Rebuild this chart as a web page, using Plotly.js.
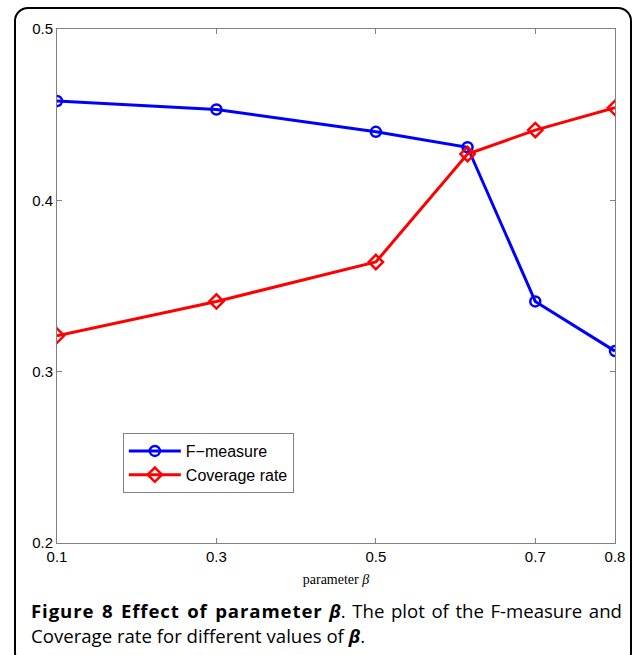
<!DOCTYPE html>
<html>
<head>
<meta charset="utf-8">
<script src="https://cdn.plot.ly/plotly-3.0.1.min.js"></script>
<style>
  html, body { margin: 0; padding: 0; background: #fff; }
  #frame {
    position: absolute; left: 14px; top: 7px; width: 618px; height: 660px;
    border: 2px solid #000; border-radius: 14px; box-sizing: border-box;
  }
  #chart { position: absolute; left: 0; top: 0; width: 635px; height: 655px; }
  #caption {
    position: absolute; left: 31px; top: 598px; width: 591px;
    font-family: 'Open Sans', sans-serif; font-size: 18.6px; line-height: 25px;
    color: #000;
  }
  #caption .first { text-align: justify; text-align-last: justify; white-space: nowrap; }
  #caption .second { text-align: left; white-space: nowrap; }
  #caption .lead { font-weight: bold; letter-spacing: 0.9px; }
  #caption .sym { font-weight: bold; font-style: italic; }
</style>
</head>
<body>
<div id="frame"></div>
<div id="chart"></div>
<div id="caption">
  <div class="first"><span class="lead">Figure 8 Effect of parameter</span> <span class="sym">&beta;</span><span>. The plot of the F-measure and</span></div>
  <div class="second"><span>Coverage rate for different values of </span><span class="sym">&beta;</span><span>.</span></div>
</div>
<script>
// beta values tested and the two scores measured at each
const beta = [0.1, 0.3, 0.5, 0.615, 0.7, 0.8];
const fMeasure = [0.458, 0.453, 0.440, 0.431, 0.341, 0.312];
const coverageRate = [0.321, 0.341, 0.364, 0.427, 0.441, 0.454];

const xTicks = [0.1, 0.3, 0.5, 0.7, 0.8];
const yTicks = [0.2, 0.3, 0.4, 0.5];

const tickFont = { family: 'Liberation Sans, Arial, sans-serif', size: 15, color: '#000' };

const traces = [
  {
    x: beta, y: fMeasure, name: 'F\u2212measure', type: 'scatter', mode: 'lines+markers',
    line: { color: '#0000ff', width: 3 },
    marker: { symbol: 'circle-open', size: 10, color: '#0000ff', line: { width: 2.5, color: '#0000ff' } }
  },
  {
    x: beta, y: coverageRate, name: 'Coverage rate', type: 'scatter', mode: 'lines+markers',
    line: { color: '#ff0000', width: 3 },
    marker: { symbol: 'diamond-open', size: 11, color: '#ff0000', line: { width: 2.5, color: '#ff0000' } }
  }
];

const axisCommon = {
  showgrid: false, zeroline: false,
  showline: true, linecolor: '#808080', linewidth: 1, mirror: 'ticks',
  ticks: 'inside', ticklen: 5, tickcolor: '#808080', tickwidth: 1,
  tickfont: tickFont
};

const layout = {
  width: 635, height: 655,
  margin: { l: 57, r: 20, t: 29, b: 112 },
  paper_bgcolor: 'rgba(0,0,0,0)', plot_bgcolor: '#fff',
  showlegend: true,
  legend: {
    x: 0.118, y: 0.214, xanchor: 'left', yanchor: 'top',
    bordercolor: '#808080', borderwidth: 1, bgcolor: '#fff',
    font: { family: 'Liberation Sans, Arial, sans-serif', size: 16, color: '#000' },
    itemwidth: 52, tracegroupgap: 0
  },
  xaxis: Object.assign({}, axisCommon, {
    range: [0.1, 0.8], tickmode: 'array', tickvals: xTicks, ticktext: xTicks.map(v => v.toFixed(1)),
    title: { text: 'parameter <i>\u03b2</i>', standoff: 10,
             font: { family: 'Liberation Serif, DejaVu Serif, serif', size: 14, color: '#000' } }
  }),
  yaxis: Object.assign({}, axisCommon, {
    range: [0.2, 0.5], tickmode: 'array', tickvals: yTicks, ticktext: yTicks.map(v => v.toFixed(1))
  })
};

Plotly.newPlot('chart', traces, layout, { displayModeBar: false, staticPlot: true });
</script>
</body>
</html>
